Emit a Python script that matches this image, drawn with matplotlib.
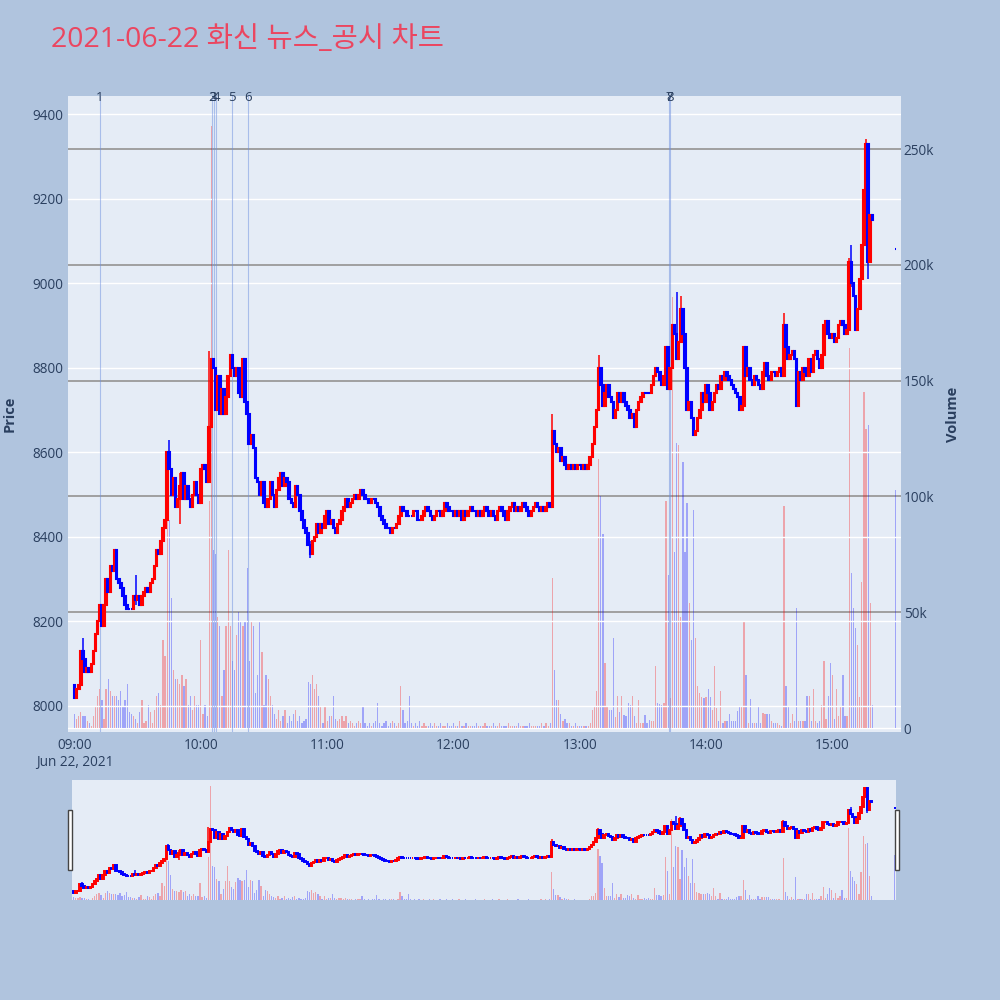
import numpy as np
import matplotlib.pyplot as plt
from matplotlib.patches import Rectangle
import matplotlib.transforms as mtransforms

plt.rcParams['font.family'] = ['Open Sans', 'Noto Sans CJK KR', 'DejaVu Sans']

titulo = '2021-06-22 화신 뉴스_공시 차트'

# cierre de cada minuto desde las 09:00 (1 fila = 10 minutos)
cierres = [
    8020, 8040, 8050, 8130, 8110, 8080, 8090, 8080, 8100, 8130,
    8170, 8200, 8240, 8190, 8240, 8300, 8270, 8330, 8320, 8370,
    8300, 8290, 8280, 8260, 8240, 8230, 8230, 8230, 8260, 8250,
    8260, 8240, 8260, 8270, 8280, 8270, 8290, 8300, 8330, 8370,
    8360, 8390, 8420, 8440, 8600, 8560, 8500, 8540, 8470, 8490,
    8520, 8550, 8490, 8520, 8490, 8470, 8500, 8530, 8500, 8480,
    8560, 8570, 8560, 8530, 8660, 8820, 8800, 8700, 8780, 8690,
    8750, 8690, 8730, 8780, 8830, 8800, 8780, 8800, 8740, 8730,
    8820, 8720, 8690, 8620, 8640, 8610, 8540, 8530, 8500, 8530,
    8480, 8470, 8490, 8530, 8500, 8470, 8510, 8540, 8550, 8520,
    8540, 8530, 8490, 8480, 8470, 8520, 8500, 8460, 8440, 8420,
    8410, 8380, 8360, 8390, 8400, 8430, 8410, 8430, 8420, 8450,
    8460, 8430, 8440, 8420, 8410, 8430, 8440, 8460, 8470, 8490,
    8470, 8480, 8490, 8500, 8490, 8500, 8510, 8500, 8490, 8490,
    8480, 8490, 8490, 8480, 8470, 8450, 8440, 8430, 8420, 8420,
    8410, 8420, 8420, 8430, 8450, 8470, 8460, 8460, 8450, 8450,
    8450, 8460, 8460, 8440, 8440, 8450, 8460, 8470, 8460, 8450,
    8440, 8450, 8460, 8460, 8450, 8460, 8480, 8470, 8460, 8460,
    8450, 8460, 8450, 8460, 8440, 8460, 8450, 8460, 8470, 8460,
    8460, 8450, 8460, 8450, 8460, 8470, 8460, 8450, 8460, 8450,
    8440, 8460, 8470, 8460, 8450, 8440, 8460, 8470, 8480, 8460,
    8470, 8460, 8470, 8480, 8470, 8460, 8450, 8460, 8470, 8480,
    8470, 8460, 8470, 8460, 8470, 8480, 8470, 8650, 8620, 8600,
    8610, 8580, 8590, 8570, 8560, 8570, 8560, 8570, 8560, 8570,
    8570, 8560, 8570, 8560, 8570, 8590, 8620, 8660, 8700, 8800,
    8760, 8710, 8740, 8760, 8730, 8720, 8680, 8700, 8740, 8720,
    8740, 8720, 8710, 8700, 8680, 8690, 8660, 8700, 8720, 8730,
    8740, 8740, 8740, 8740, 8760, 8780, 8800, 8790, 8770, 8760,
    8780, 8850, 8750, 8800, 8900, 8880, 8820, 8860, 8940, 8880,
    8800, 8700, 8720, 8680, 8640, 8650, 8680, 8700, 8740, 8720,
    8760, 8740, 8700, 8720, 8740, 8760, 8750, 8780, 8770, 8790,
    8780, 8770, 8760, 8750, 8740, 8730, 8700, 8710, 8850, 8780,
    8800, 8770, 8760, 8780, 8770, 8760, 8750, 8790, 8810, 8780,
    8770, 8790, 8790, 8780, 8790, 8800, 8780, 8900, 8850, 8820,
    8830, 8840, 8820, 8710, 8790, 8770, 8800, 8790, 8780, 8820,
    8790, 8830, 8840, 8820, 8800, 8830, 8900, 8910, 8880, 8870,
    8880, 8860, 8870, 8900, 8910, 8900, 8880, 8890, 9050, 9000,
    8970, 8890, 8940, 9010, 9090, 9220, 9330, 9050, 9160, 9150,
]
apertura_inicial = 8050

# volumen por minuto, en miles
volumen_k = [
    6, 4, 5, 7, 5, 5, 3, 2, 1, 5,
    9, 14, 17, 12, 4, 17, 21, 16, 14, 14,
    14, 12, 16, 9, 12, 19, 7, 6, 5, 4,
    2, 7, 12, 2, 3, 10, 7, 2, 8, 14,
    15, 10, 38, 31, 117, 90, 56, 25, 21, 21,
    19, 23, 18, 21, 10, 14, 8, 14, 10, 10,
    38, 6, 10, 5, 98, 260, 77, 75, 48, 44,
    14, 25, 44, 77, 44, 29, 25, 40, 50, 46,
    44, 46, 69, 29, 46, 44, 15, 23, 46, 33,
    10, 23, 21, 14, 10, 6, 4, 8, 3, 5,
    8, 2, 5, 3, 6, 8, 3, 5, 2, 3,
    4, 20, 19, 23, 17, 19, 14, 9, 2, 9,
    3, 5, 5, 14, 4, 3, 4, 5, 3, 5,
    2, 3, 2, 1, 2, 3, 2, 9, 2, 1,
    2, 1, 2, 3, 11, 2, 1, 2, 3, 1,
    2, 3, 2, 1, 2, 18, 8, 2, 3, 14,
    2, 1, 2, 1, 3, 1, 2, 1, 1, 2,
    1, 2, 1, 1, 2, 1, 1, 2, 1, 1,
    2, 1, 1, 3, 1, 1, 2, 1, 1, 1,
    1, 2, 1, 1, 1, 2, 1, 1, 1, 2,
    1, 1, 2, 1, 1, 1, 2, 1, 1, 1,
    1, 2, 1, 1, 1, 1, 2, 1, 1, 1,
    1, 1, 2, 1, 2, 1, 2, 65, 25, 12,
    12, 6, 3, 4, 2, 2, 1, 1, 2, 1,
    1, 1, 1, 1, 1, 2, 8, 9.5, 16, 116,
    100, 84, 28, 9.5, 8, 8, 39, 4.6, 14, 7,
    14, 5.6, 5, 11, 10, 14, 5, 2, 12, 2,
    2, 5.6, 2, 3.5, 3, 3, 27, 11, 10.6, 10,
    11, 98, 66, 13, 186, 76, 123, 122, 48, 115,
    76, 97, 54, 38, 94, 39, 18, 15, 13.5, 13,
    13.5, 17, 13.5, 8, 27, 8.5, 3, 16, 2, 3,
    3, 6, 3, 3, 3, 7.5, 9, 9, 46, 23,
    2, 12.4, 2, 2, 2, 9, 2, 6.6, 6, 6,
    6, 3, 2, 2, 2, 1.5, 1, 96, 18, 9,
    2, 6, 3, 52, 3, 3, 3, 3, 14, 14,
    3, 17, 3, 2, 3, 10, 29, 4, 14, 28,
    23, 4, 17, 5, 9, 23, 5, 5, 164, 67,
    52, 43, 36, 13.5, 63, 145, 129, 131, 54, 10,
]

# cierre de 15:30 (subasta)
minuto_subasta = 390
precio_subasta = 9080
volumen_subasta_k = 103

# mechas visibles
mecha_min = [4, 29, 45, 50, 64, 112, 227, 249, 286, 288, 337, 368, 369, 376, 377]
mecha_alto = [8160, 8310, 8630, 8550, 8840, 8390, 8690, 8830, 8980, 8970, 8930, 9060, 9090, 9340, 9330]
mecha_bajo = [8100, 8240, 8560, 8430, 8530, 8350, 8470, 8700, 8820, 8860, 8780, 8890, 8990, 9220, 9010]

# noticias / avisos
noticia_min = [12.1, 65.3, 66.1, 67.2, 74.8, 82.4, 282.4, 282.8]
noticia_num = ['1', '2', '3', '4', '5', '6', '7', '8']

horas = ['09:00\nJun 22, 2021', '10:00', '11:00', '12:00', '13:00', '14:00', '15:00']

minutos = list(range(len(cierres))) + [minuto_subasta]
cierre = np.array(cierres + [precio_subasta], dtype=float)
apertura = np.array([apertura_inicial] + cierres[:-1] + [precio_subasta], dtype=float)
volumen = np.array(volumen_k + [volumen_subasta_k], dtype=float)
t = np.array(minutos, dtype=float)
sube = cierre > apertura
colores = np.where(sube, 'red', 'blue')

fondo = '#B0C4DE'
fondo_plot = '#E5ECF6'
texto = '#2a3f5f'

fig = plt.figure(figsize=(10, 10), dpi=100, facecolor=fondo)
fig.text(0.051, 0.96, titulo, fontsize=20.5, color='#EB4660', va='center', ha='left')


def velas(ax, ax_v, lw, ancho):
    ax_v.bar(t, volumen, width=0.6, color=colores, alpha=0.3, linewidth=0)
    for m, lo, hi in zip(mecha_min, mecha_bajo, mecha_alto):
        ax.vlines(m, lo, hi, color=colores[m], linewidth=1.1, zorder=3)
    base = np.minimum(apertura, cierre)
    alto = np.abs(cierre - apertura)
    ax.bar(t, alto, bottom=base, width=ancho, color=colores,
           edgecolor=colores, linewidth=lw, zorder=4)


def preparar(ax, ax_v):
    ax.set_zorder(2)
    ax_v.set_zorder(1)
    ax.patch.set_visible(False)
    ax_v.patch.set_visible(True)
    ax_v.set_facecolor(fondo_plot)
    for a in (ax, ax_v):
        for s in a.spines.values():
            s.set_visible(False)


# grafico principal
ax = fig.add_axes([0.068, 0.268, 0.833, 0.636])
ax_v = ax.twinx()
preparar(ax, ax_v)

ax_v.set_ylim(-1.7, 272.9)
ax_v.set_yticks([0, 50, 100, 150, 200, 250])
ax_v.set_yticklabels(['0', '50k', '100k', '150k', '200k', '250k'])
for v in [50, 100, 150, 200, 250]:
    ax_v.axhline(v, color='#9a9a9a', linewidth=1.3, zorder=0)
ax_v.axhline(0, color='white', linewidth=1.0, zorder=0)
ax_v.set_ylabel('Volume', fontsize=10.5, color=texto, fontweight='bold', labelpad=8)

ax.set_ylim(7938.5, 9442.6)
ax.set_yticks(np.arange(8000, 9401, 200))
for p in np.arange(8000, 9401, 200):
    ax.axhline(p, color='white', linewidth=1.0, zorder=0)
ax.set_ylabel('Price', fontsize=10.5, color=texto, fontweight='bold', labelpad=12)

ax.set_xlim(-3.1, 392.6)
ax.set_xticks(np.arange(0, 361, 60))
ax.set_xticklabels(horas)

velas(ax, ax_v, lw=1.5, ancho=0.75)

for m in noticia_min:
    ax.axvline(m, color='#6d8fe0', alpha=0.5, linewidth=0.8, zorder=1)
trans = mtransforms.blended_transform_factory(ax.transData, ax.transAxes)
for m, n in zip(noticia_min, noticia_num):
    ax.text(m, 0.997, n, transform=trans, ha='center', va='center',
            fontsize=9.5, color=texto, zorder=6)

ax.tick_params(axis='both', length=0, labelsize=9.8, labelcolor=texto)
ax.tick_params(axis='y', pad=3)
ax.tick_params(axis='x', pad=4)
ax_v.tick_params(axis='y', length=0, labelsize=9.8, labelcolor=texto, pad=2)

# barra de rango
ax_s = fig.add_axes([0.072, 0.100, 0.824, 0.120])
ax_sv = ax_s.twinx()
preparar(ax_s, ax_sv)
ax_s.set_xlim(-0.8, 390.6)
ax_s.set_ylim(7933, 9427)
ax_sv.set_ylim(0, 274)
velas(ax_s, ax_sv, lw=1.4, ancho=0.75)
for a in (ax_s, ax_sv):
    a.set_xticks([])
    a.set_yticks([])

for x0 in (0.068, 0.895):
    fig.patches.append(Rectangle((x0, 0.130), 0.004, 0.060, transform=fig.transFigure,
                                 facecolor='white', edgecolor='#444444', linewidth=1.0))

plt.savefig('out.png', dpi=100, facecolor=fondo)
